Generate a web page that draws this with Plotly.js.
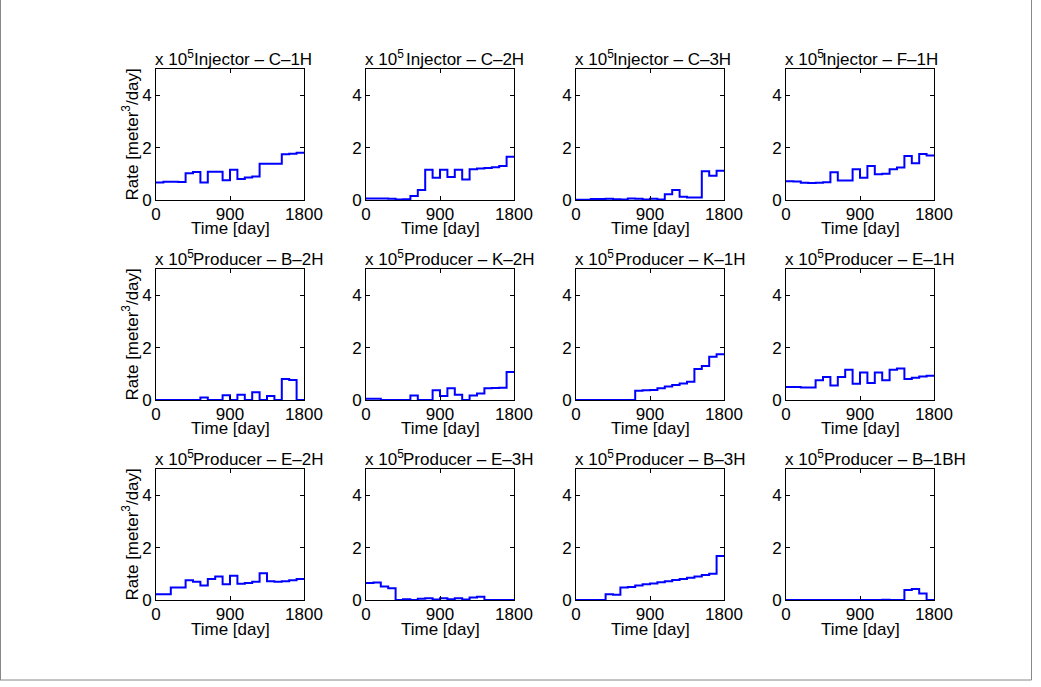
<!DOCTYPE html>
<html>
<head>
<meta charset="utf-8">
<script src="https://cdn.plot.ly/plotly-3.0.1.min.js"></script>
<style>html,body{margin:0;padding:0;background:#fff}#chart{width:1041px;height:687px}</style>
</head>
<body>
<div id="chart"></div>
<script>
// ---- Data (rate in units of 1e5 m^3/day, one value per 90-day report step) ----
const timeDays = [0, 90, 180, 270, 360, 450, 540, 630, 720, 810, 900, 990, 1080, 1170, 1260, 1350, 1440, 1530, 1620, 1710, 1800];
const wellTitles = ["Injector \u2013 C\u20131H", "Injector \u2013 C\u20132H", "Injector \u2013 C\u20133H", "Injector \u2013 F\u20131H",
                    "Producer \u2013 B\u20132H", "Producer \u2013 K\u20132H", "Producer \u2013 K\u20131H", "Producer \u2013 E\u20131H",
                    "Producer \u2013 E\u20132H", "Producer \u2013 E\u20133H", "Producer \u2013 B\u20133H", "Producer \u2013 B\u20131BH"];
const rateC1H = [0.67, 0.70, 0.70, 0.69, 1.02, 1.07, 0.67, 1.08, 1.08, 0.75, 1.15, 0.80, 0.86, 0.90, 1.38, 1.38, 1.38, 1.75, 1.77, 1.80];
const rateC2H = [0.06, 0.06, 0.06, 0.05, 0.02, 0.03, 0.15, 0.38, 1.15, 0.85, 1.15, 0.88, 1.15, 0.78, 1.17, 1.20, 1.22, 1.25, 1.30, 1.65];
const rateC3H = [0.01, 0.01, 0.04, 0.04, 0.05, 0.03, 0.02, 0.06, 0.05, 0.02, 0.05, 0.02, 0.22, 0.38, 0.12, 0.10, 0.10, 1.10, 0.93, 1.12];
const rateF1H = [0.72, 0.71, 0.66, 0.65, 0.66, 0.68, 1.06, 0.74, 0.74, 1.17, 0.85, 1.30, 0.98, 1.00, 1.17, 1.24, 1.68, 1.40, 1.76, 1.70];
const rateB2H = [0, 0, 0, 0, 0, 0, 0.10, 0, 0, 0.18, 0, 0.20, 0, 0.30, 0, 0.15, 0, 0.80, 0.76, 0];
const rateK2H = [0.05, 0.05, 0, 0, 0, 0, 0.17, 0, 0, 0.37, 0.15, 0.45, 0.20, 0, 0.17, 0.25, 0.45, 0.46, 0.47, 1.07];
const rateK1H = [0, 0, 0, 0, 0, 0, 0, 0, 0.35, 0.37, 0.38, 0.45, 0.52, 0.57, 0.63, 0.70, 1.18, 1.30, 1.65, 1.75];
const rateE1H = [0.50, 0.50, 0.48, 0.48, 0.75, 0.88, 0.55, 0.88, 1.15, 0.62, 1.05, 0.65, 1.05, 0.75, 1.15, 1.20, 0.80, 0.85, 0.90, 0.93];
const rateE2H = [0.22, 0.22, 0.48, 0.48, 0.75, 0.70, 0.55, 0.80, 0.90, 0.60, 0.93, 0.62, 0.65, 0.70, 1.02, 0.72, 0.70, 0.72, 0.75, 0.80];
const rateE3H = [0.65, 0.67, 0.52, 0.45, 0, 0.03, 0, 0.05, 0.07, 0.02, 0.07, 0.03, 0.07, 0.02, 0.10, 0.12, 0, 0, 0, 0];
const rateB3H = [0, 0, 0, 0, 0.22, 0.20, 0.48, 0.50, 0.55, 0.60, 0.63, 0.68, 0.72, 0.76, 0.80, 0.85, 0.90, 0.95, 1.00, 1.68];
const rateB1BH = [0, 0, 0, 0, 0, 0, 0, 0, 0, 0, 0, 0, 0, 0.01, 0, 0, 0.38, 0.42, 0.25, 0];
const xTickVals = [0, 900, 1800];
const yTickVals = [0, 2, 4];
const xLabel = 'Time [day]';
const yLabel = 'Rate [meter<sup>3</sup>/day]';
const scaleLabel = 'x 10<sup>5</sup>';

// ---- Layout geometry (pixels) ----
const W = 1041, H = 687;
const colLeft = [156, 366, 576, 786];
const axW = 148;
const rowTop = [69, 269, 469];
const axH = 131;
const titleShift = [23, 25, 22, 20, 28, 29, 30, 29, 28, 28, 30, 35];

const allRates = [rateC1H, rateC2H, rateC3H, rateF1H, rateB2H, rateK2H, rateK1H, rateE1H, rateE2H, rateE3H, rateB3H, rateB1BH];
const FONT = '"Liberation Sans", Arial, Helvetica, sans-serif';
const FS = 17;

const traces = [];
const layout = {
  width: W, height: H,
  margin: {l: 0, r: 0, t: 0, b: 0},
  paper_bgcolor: '#fff', plot_bgcolor: '#fff',
  showlegend: false,
  font: {family: FONT, size: FS, color: '#000'},
  annotations: [],
  shapes: [
    {type: 'line', xref: 'paper', yref: 'paper', x0: 0.5 / W, x1: 0.5 / W, y0: 1 - 680 / H, y1: 1, line: {color: '#888', width: 1}},
    {type: 'line', xref: 'paper', yref: 'paper', x0: 1031.5 / W, x1: 1031.5 / W, y0: 1 - 680 / H, y1: 1, line: {color: '#888', width: 1}},
    {type: 'line', xref: 'paper', yref: 'paper', x0: 0, x1: 1031.5 / W, y0: 1 - 680 / H, y1: 1 - 680 / H, line: {color: '#888', width: 1}}
  ]
};

allRates.forEach((rates, i) => {
  const row = Math.floor(i / 4), col = i % 4;
  const n = i + 1;
  const xa = n === 1 ? 'x' : 'x' + n;
  const ya = n === 1 ? 'y' : 'y' + n;
  traces.push({
    type: 'scatter', mode: 'lines',
    x: timeDays,
    y: rates.concat([rates[rates.length - 1]]),
    line: {shape: 'hv', color: '#0000ff', width: 2},
    xaxis: xa, yaxis: ya, hoverinfo: 'skip'
  });
  const x0 = colLeft[col] / W, x1 = (colLeft[col] + axW) / W;
  const yT = 1 - rowTop[row] / H, yB = 1 - (rowTop[row] + axH) / H;
  const common = {
    showgrid: false, zeroline: false, showline: true, linecolor: '#000', linewidth: 1,
    mirror: 'ticks', ticks: 'inside', ticklen: 4, tickwidth: 1, tickcolor: '#000',
    tickfont: {family: FONT, size: FS, color: '#000'}, fixedrange: true
  };
  layout['xaxis' + (n === 1 ? '' : n)] = Object.assign({}, common, {
    domain: [x0, x1], anchor: ya, range: [0, 1800], tickmode: 'array', tickvals: xTickVals,
    ticktext: xTickVals.map(String), ticklabelstandoff: -1
  });
  layout['yaxis' + (n === 1 ? '' : n)] = Object.assign({}, common, {
    domain: [yB, yT], anchor: xa, range: [0, 5], tickmode: 'array', tickvals: yTickVals,
    ticktext: yTickVals.map(String)
  });
  // x-axis label
  layout.annotations.push({
    xref: 'paper', yref: 'paper', x: (x0 + x1) / 2, y: yB, xanchor: 'center', yanchor: 'middle', yshift: -29,
    showarrow: false, text: xLabel, font: {family: FONT, size: FS, color: '#000'}
  });
  // y-axis label (first column only)
  if (col === 0) {
    layout.annotations.push({
      xref: 'paper', yref: 'paper', x: 130 / W, y: (yB + yT) / 2, xanchor: 'center', yanchor: 'middle',
      textangle: -90, showarrow: false, text: yLabel, font: {family: FONT, size: FS, color: '#000'}
    });
  }
  // panel title
  layout.annotations.push({
    xref: 'paper', yref: 'paper', x: (colLeft[col] + axW / 2 + titleShift[i]) / W, y: yT,
    xanchor: 'center', yanchor: 'bottom', yshift: -2, showarrow: false,
    text: wellTitles[i], font: {family: FONT, size: FS, color: '#000'}
  });
  // exponent label
  layout.annotations.push({
    xref: 'paper', yref: 'paper', x: x0, y: yT, xanchor: 'left', yanchor: 'bottom', yshift: -2, xshift: -3,
    showarrow: false, text: scaleLabel, font: {family: FONT, size: FS, color: '#000'}
  });
});

Plotly.newPlot('chart', traces, layout, {displayModeBar: false, staticPlot: true});
</script>
</body>
</html>
